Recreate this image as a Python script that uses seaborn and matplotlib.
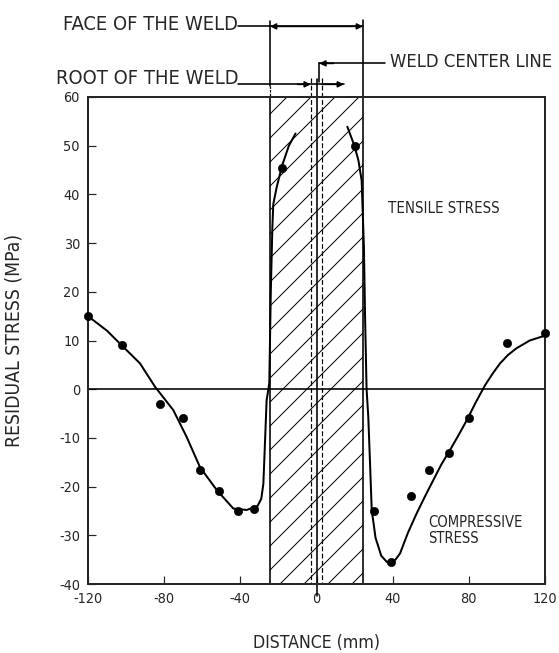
import numpy as np
import pandas as pd
import matplotlib
matplotlib.use("Agg")
import matplotlib.pyplot as plt
import seaborn as sns

# measured points (distance mm, residual stress MPa)
pts_x = [-120, -102, -82, -70, -61, -51, -41, -33, -18, 20, 30, 39, 49.5, 59, 69.5, 80, 100, 120]
pts_y = [15, 9, -3, -6, -16.5, -21, -25, -24.5, 45.5, 50, -25, -35.5, -22, -16.5, -13, -6, 9.5, 11.5]

# fitted curve, left branch
left_x = [-120, -110, -101.5, -92.7, -84.8, -75.2, -68.2, -61.2, -52.4, -43.7, -36.7, -31, -29,
          -27.9, -26.2, -24.8, -24, -23.2, -22.7, -20.9, -18, -14.5, -11]
left_y = [15, 12, 8.7, 5.3, 0.5, -4.3, -9.8, -16, -20.7, -24.5, -24.8, -24, -22.5,
          -19.4, -2.3, 1.2, 20, 33, 38, 41.5, 46, 50, 52.5]

# fitted curve, right branch
right_x = [16.2, 19.9, 22, 23.7, 24.9, 25.5, 26.3, 27.2, 28, 29, 31, 34, 37, 39.5, 41.5, 43.9, 48,
           52.6, 57, 61.3, 65.5, 70.1, 74.5, 78.9, 83.5, 88.5, 92.5, 96.4, 100.5, 105, 112, 120]
right_y = [53.9, 50, 47, 42.9, 29.2, 15, 0, -5.7, -14, -24.8, -30.5, -34.2, -35.5, -35.5, -35, -33.7, -29.5,
           -25.5, -22, -18.7, -15.5, -12.5, -9.5, -6.4, -2.8, 0.8, 3.2, 5.3, 7, 8.4, 10, 11]

x_ticks = [-120, -80, -40, 0, 40, 80, 120]
y_ticks = [-40, -30, -20, -10, 0, 10, 20, 30, 40, 50, 60]

weld_face = 24.4   # half width of weld face
weld_root = 3.0    # half width of weld root

sns.set_style("ticks")
plt.rcParams['font.family'] = ['DejaVu Sans']
plt.rcParams['font.stretch'] = 'condensed'
plt.rcParams['hatch.linewidth'] = 0.5

DPI = 144
fig = plt.figure(figsize=(559 / DPI, 653 / DPI), dpi=DPI)
ax = fig.add_axes([88 / 559, 69 / 653, 457 / 559, 487 / 653])

# weld zone
ax.axvspan(-weld_face, weld_face, facecolor='none', edgecolor='black', hatch='//', lw=0.8)
ax.axhline(0, color='black', lw=0.8)
for xr in (-weld_root, weld_root):
    ax.plot([xr, xr], [64, -40], color='black', lw=0.6, ls=(0, (4, 2)), clip_on=False)
ax.plot([0, 0], [63.6, -42.5], color='black', lw=0.8, clip_on=False)

left = pd.DataFrame({"x": left_x, "y": left_y})
right = pd.DataFrame({"x": right_x, "y": right_y})
sns.lineplot(data=left, x="x", y="y", sort=False, estimator=None, color='black', lw=1.0, ax=ax)
sns.lineplot(data=right, x="x", y="y", sort=False, estimator=None, color='black', lw=1.0, ax=ax)
sns.scatterplot(x=pts_x, y=pts_y, color='black', s=17, edgecolor='black', zorder=5, clip_on=False, ax=ax)

ax.set_xlim(-120, 120)
ax.set_ylim(-40, 60)
ax.set_xticks(x_ticks)
ax.set_yticks(y_ticks)
ax.set_xticklabels([str(v) for v in x_ticks])
ax.set_yticklabels([str(v) for v in y_ticks])
ax.tick_params(direction='in', length=4, width=0.6, labelsize=7.2, pad=4)
for s in ax.spines.values():
    s.set_linewidth(1.0)
    s.set_visible(True)

ax.set_xlabel("DISTANCE (mm)", fontsize=8.8, labelpad=14)
ax.set_ylabel("RESIDUAL STRESS (MPa)", fontsize=9.6)
ax.yaxis.set_label_coords(-0.141, 0.5)

ax.text(37.5, 37.2, "TENSILE STRESS", fontsize=7.5, va='center', ha='left')
ax.text(58.5, -29, "COMPRESSIVE\nSTRESS", fontsize=7.4, va='center', ha='left', linespacing=1.1)

# annotations above the plot
kw = dict(color='black', lw=0.8, clip_on=False)
ax.plot([-weld_face, -weld_face], [75.6, 62.2], **kw)
ax.plot([-weld_face, -weld_face], [62.2, 60], color='black', lw=0.6, ls=(0, (2, 1)), clip_on=False)
ax.plot([weld_face, weld_face], [75.8, 60], **kw)
ax.plot([-41, weld_face], [74.5, 74.5], **kw)
ax.annotate("", xy=(-weld_face, 74.5), xytext=(weld_face, 74.5), annotation_clip=False,
            arrowprops=dict(arrowstyle='<|-|>', color='black', lw=0.8, mutation_scale=6, shrinkA=0, shrinkB=0))
ax.text(-41, 74.8, "FACE OF THE WELD", fontsize=10, ha='right', va='center')

ax.plot([36, 1.5], [66.9, 66.9], **kw)
ax.plot([1.5, 1.5], [66.9, 63], **kw)
ax.annotate("", xy=(1.5, 66.9), xytext=(9, 66.9), annotation_clip=False,
            arrowprops=dict(arrowstyle='-|>', color='black', lw=0.8, mutation_scale=6, shrinkA=0, shrinkB=0))
ax.text(38.6, 67.2, "WELD CENTER LINE", fontsize=9.2, ha='left', va='center')

ax.plot([-41, 14.4], [62.6, 62.6], **kw)
ax.annotate("", xy=(-weld_root, 62.6), xytext=(-10, 62.6), annotation_clip=False,
            arrowprops=dict(arrowstyle='-|>', color='black', lw=0.8, mutation_scale=6, shrinkA=0, shrinkB=0))
ax.annotate("", xy=(14.4, 62.6), xytext=(weld_root, 62.6), annotation_clip=False,
            arrowprops=dict(arrowstyle='-|>', color='black', lw=0.8, mutation_scale=6, shrinkA=0, shrinkB=0))
ax.text(-41, 63.8, "ROOT OF THE WELD", fontsize=10, ha='right', va='center')

fig.savefig("out.png", dpi=DPI)
